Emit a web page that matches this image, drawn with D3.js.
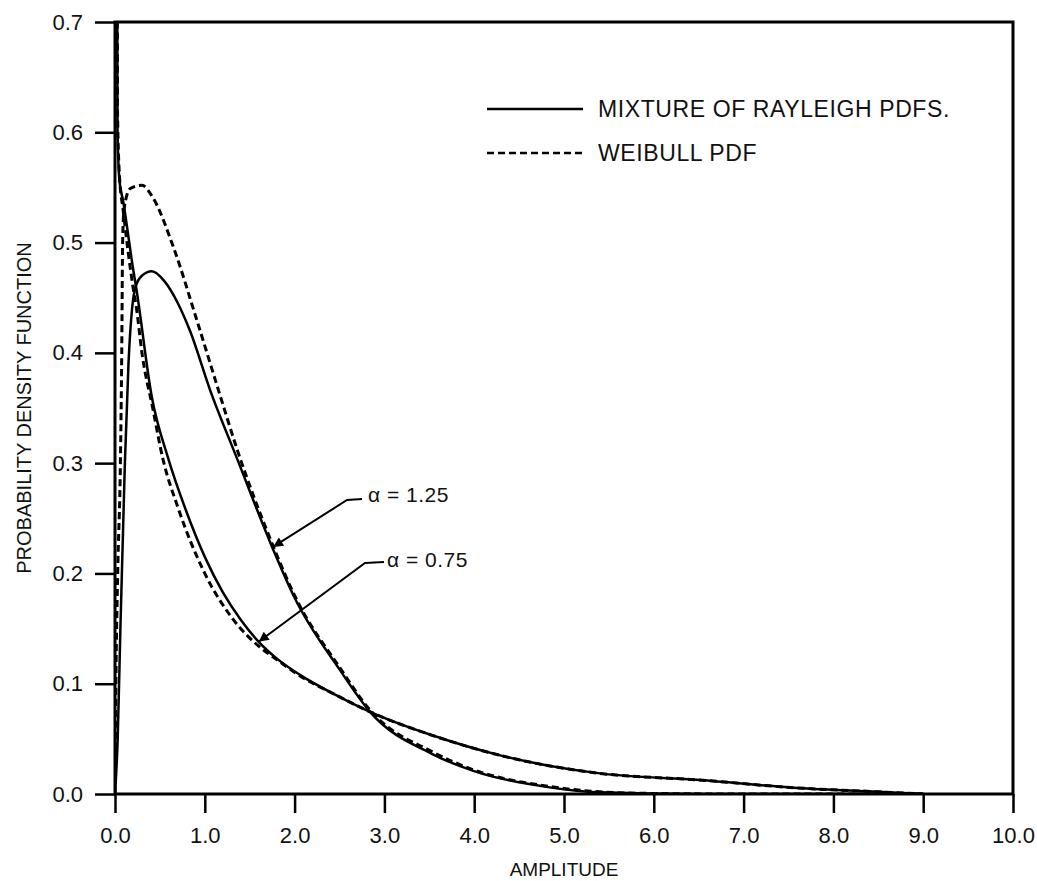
<!DOCTYPE html>
<html>
<head>
<meta charset="utf-8">
<script src="https://cdn.jsdelivr.net/npm/d3@7/dist/d3.min.js"></script>
<style>
  body { margin: 0; background: #fff; }
  svg { display: block; font-family: "Liberation Sans", Arial, Helvetica, sans-serif; }
  .tick text { font-size: 22px; fill: #111; }
</style>
</head>
<body>
<svg id="chart" width="1037" height="881"></svg>
<script>
// Values: [amplitude, pdf]
const rayleigh125 = [
  [0, 0], [0.03, 0.05], [0.06, 0.15], [0.09, 0.24], [0.11, 0.30], [0.15, 0.39],
  [0.19, 0.44], [0.23, 0.46], [0.3, 0.47], [0.41, 0.474], [0.55, 0.465],
  [0.7, 0.445], [0.835, 0.42], [1.06, 0.366], [1.355, 0.305], [1.76, 0.222],
  [2.0, 0.178], [2.5, 0.113], [2.84, 0.0745], [3.54, 0.036], [3.99, 0.021],
  [4.84, 0.006], [5.4, 0.0015], [6.5, 0.0], [9.0, 0.0]
];
const weibull125 = [
  [0, 0], [0.01, 0.1], [0.03, 0.2], [0.06, 0.3], [0.075, 0.4], [0.085, 0.5],
  [0.1, 0.53], [0.17, 0.549], [0.3, 0.552], [0.42, 0.541], [0.65, 0.496],
  [0.91, 0.43], [1.13, 0.372], [1.37, 0.31], [1.76, 0.225], [2.0, 0.18],
  [2.5, 0.115], [2.84, 0.076], [3.54, 0.038], [3.99, 0.022], [4.84, 0.0068],
  [5.4, 0.002], [6.0, 0.0005], [7.0, 0.0], [9.0, 0.0]
];
const rayleigh075 = [
  [0.02, 0.9], [0.025, 0.75], [0.028, 0.6], [0.05, 0.556], [0.09, 0.538],
  [0.2, 0.477], [0.24, 0.457], [0.41, 0.36], [0.59, 0.305], [0.8, 0.255],
  [1.0, 0.215], [1.2, 0.183], [1.4, 0.158], [1.6, 0.138], [1.8, 0.123],
  [2.06, 0.108], [2.43, 0.091], [2.84, 0.0745], [3.54, 0.053], [4.29, 0.035],
  [5.4, 0.0187], [6.51, 0.0127], [7.6, 0.0055], [8.5, 0.002], [9.0, 0.0]
];
const weibull075 = [
  [0.02, 0.9], [0.025, 0.75], [0.028, 0.62], [0.05, 0.56], [0.09, 0.53],
  [0.2, 0.46], [0.24, 0.44], [0.3, 0.40], [0.42, 0.35], [0.53, 0.305],
  [0.7, 0.26], [1.0, 0.20], [1.3, 0.16], [1.6, 0.134], [1.8, 0.122],
  [2.06, 0.107], [2.43, 0.091], [2.84, 0.0745], [3.54, 0.053], [4.29, 0.035],
  [5.4, 0.0187], [6.51, 0.0127], [7.6, 0.0055], [8.5, 0.002], [9.0, 0.0]
];

const xTicks = [0, 1, 2, 3, 4, 5, 6, 7, 8, 9, 10];
const yTicks = [0, 0.1, 0.2, 0.3, 0.4, 0.5, 0.6, 0.7];

const legendLabels = ["MIXTURE OF RAYLEIGH PDFS.", "WEIBULL PDF"];
const notes = [
  { text: "\u03b1 = 1.25", at: [1.76, 0.224] },
  { text: "\u03b1 = 0.75", at: [1.6, 0.138] }
];

const svg = d3.select("#chart");
const plotLeft = 115, plotRight = 1013, plotTop = 22, plotBottom = 794;

const x = d3.scaleLinear().domain([0, 10]).range([plotLeft, plotRight]);
const y = d3.scaleLinear().domain([0, 0.7]).range([plotBottom, plotTop]);

const defs = svg.append("defs");

defs.append("clipPath")
  .attr("id", "plot")
  .append("rect")
  .attr("x", plotLeft).attr("y", plotTop)
  .attr("width", plotRight - plotLeft).attr("height", plotBottom - plotTop);

defs.append("marker")
  .attr("id", "arrow")
  .attr("viewBox", "0 0 10 10")
  .attr("refX", 10).attr("refY", 5)
  .attr("markerWidth", 7).attr("markerHeight", 5)
  .attr("markerUnits", "strokeWidth")
  .attr("orient", "auto")
  .append("path")
  .attr("d", "M0,0 L10,5 L0,10 Z")
  .attr("fill", "#000");

// axes
const xAxis = d3.axisBottom(x)
  .tickValues(xTicks)
  .tickSize(19)
  .tickPadding(14)
  .tickFormat(d3.format(".1f"));

const yAxis = d3.axisLeft(y)
  .tickValues(yTicks)
  .tickSize(20)
  .tickPadding(12)
  .tickFormat(d3.format(".1f"));

svg.append("g")
  .attr("transform", `translate(0,${plotBottom})`)
  .call(xAxis)
  .call(g => g.select(".domain").remove())
  .call(g => g.selectAll(".tick line").attr("stroke", "#000").attr("stroke-width", 2.5));

svg.append("g")
  .attr("transform", `translate(${plotLeft},0)`)
  .call(yAxis)
  .call(g => g.select(".domain").remove())
  .call(g => g.selectAll(".tick line").attr("stroke", "#000").attr("stroke-width", 2.5));

// frame
svg.append("rect")
  .attr("x", plotLeft).attr("y", plotTop)
  .attr("width", plotRight - plotLeft).attr("height", plotBottom - plotTop)
  .attr("fill", "none")
  .attr("stroke", "#000")
  .attr("stroke-width", 3);

// curves
const line = d3.line()
  .x(d => x(d[0]))
  .y(d => y(d[1]))
  .curve(d3.curveMonotoneX);

const series = [
  { data: weibull125, dashed: true },
  { data: weibull075, dashed: true },
  { data: rayleigh125, dashed: false },
  { data: rayleigh075, dashed: false }
];

svg.append("g")
  .attr("clip-path", "url(#plot)")
  .selectAll("path")
  .data(series)
  .join("path")
  .attr("d", d => line(d.data))
  .attr("fill", "none")
  .attr("stroke", "#000")
  .attr("stroke-width", d => d.dashed ? 3 : 2.5)
  .attr("stroke-dasharray", d => d.dashed ? "7,4" : null);

// legend
const legend = svg.append("g");
legendLabels.forEach((label, i) => {
  const ly = 109 + i * 44;
  legend.append("line")
    .attr("x1", 487).attr("x2", 583)
    .attr("y1", ly).attr("y2", ly)
    .attr("stroke", "#000")
    .attr("stroke-width", 2.5)
    .attr("stroke-dasharray", i === 1 ? "7,4" : null);
  legend.append("text")
    .attr("x", 598).attr("y", ly + 8)
    .attr("font-size", 23)
    .attr("letter-spacing", 0.6)
    .attr("fill", "#111")
    .text(label);
});

// annotations with arrows
const noteText = [[368, 502], [387, 567]];
const noteLeader = [[[362, 499], [347, 500]], [[384, 562], [365, 563]]];
notes.forEach((n, i) => {
  const [tx, ty] = noteText[i];
  const [a, b] = noteLeader[i];
  svg.append("polyline")
    .attr("points", [a, b, [x(n.at[0]), y(n.at[1])]].map(p => p.join(",")).join(" "))
    .attr("fill", "none")
    .attr("stroke", "#000")
    .attr("stroke-width", 2)
    .attr("marker-end", "url(#arrow)");
  svg.append("text")
    .attr("x", tx).attr("y", ty)
    .attr("font-size", 21)
    .attr("letter-spacing", 0.5)
    .attr("fill", "#111")
    .text(n.text);
});

// axis titles
svg.append("text")
  .attr("x", (plotLeft + plotRight) / 2)
  .attr("y", 876)
  .attr("text-anchor", "middle")
  .attr("font-size", 19)
  .attr("fill", "#111")
  .text("AMPLITUDE");

svg.append("text")
  .attr("transform", `translate(31,${(plotTop + plotBottom) / 2}) rotate(-90)`)
  .attr("text-anchor", "middle")
  .attr("font-size", 20)
  .attr("fill", "#111")
  .text("PROBABILITY DENSITY FUNCTION");
</script>
</body>
</html>
